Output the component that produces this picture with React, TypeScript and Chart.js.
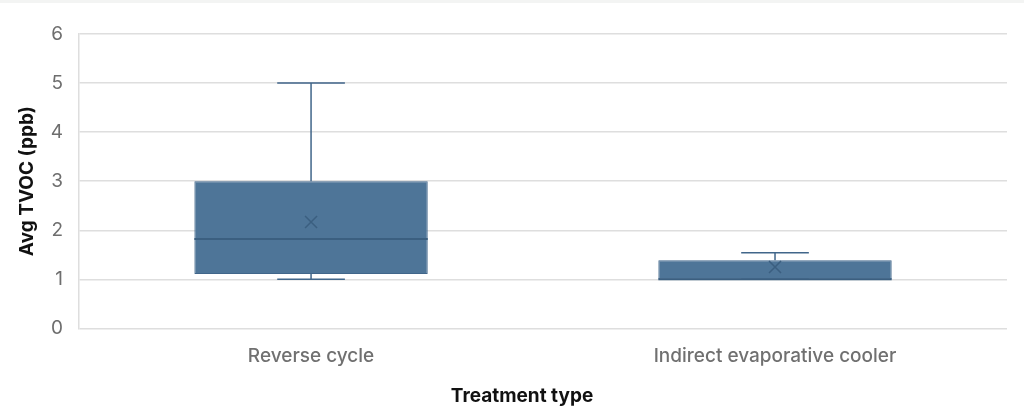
import { useEffect, useRef } from 'react'
import { Chart, registerables } from 'chart.js'

Chart.register(...registerables)

const categories = ['Reverse cycle', 'Indirect evaporative cooler']
const whiskerMin = [1.0, 1.0]
const q1 = [1.11, 1.0]
const median = [1.82, 1.0]
const q3 = [3.0, 1.39]
const whiskerMax = [5.0, 1.54]
const mean = [2.17, 1.25]
const yTicks = [0, 1, 2, 3, 4, 5, 6]
const xTitle = 'Treatment type'

const boxFill = '#4e7598'
const lineColor = '#41668a'
const titleFont = { family: 'Inter', size: 19, weight: 'bold' as const }

const boxPlotPlugin = {
  id: 'boxPlot',
  afterDatasetsDraw(chart: any) {
    const ctx = chart.ctx
    const y = chart.scales.y
    const meta = chart.getDatasetMeta(0)
    meta.data.forEach((bar: any, i: number) => {
      const cx = bar.x
      const half = bar.width / 2
      const cap = bar.width * 0.145
      const yMin = y.getPixelForValue(whiskerMin[i])
      const yQ1 = y.getPixelForValue(q1[i])
      const yQ3 = y.getPixelForValue(q3[i])
      const yMax = y.getPixelForValue(whiskerMax[i])
      const yMed = y.getPixelForValue(median[i])
      const yMean = y.getPixelForValue(mean[i])
      ctx.save()
      ctx.strokeStyle = lineColor
      ctx.lineWidth = 1.5
      ctx.beginPath()
      // whiskers
      ctx.moveTo(cx, yQ3)
      ctx.lineTo(cx, yMax)
      ctx.moveTo(cx - cap, yMax)
      ctx.lineTo(cx + cap, yMax)
      ctx.moveTo(cx, yQ1)
      ctx.lineTo(cx, yMin)
      ctx.moveTo(cx - cap, yMin)
      ctx.lineTo(cx + cap, yMin)
      ctx.stroke()
      // median
      ctx.strokeStyle = '#3b5f80'
      ctx.lineWidth = 2
      ctx.beginPath()
      ctx.moveTo(cx - half, yMed)
      ctx.lineTo(cx + half, yMed)
      ctx.stroke()
      // mean marker
      const m = 6
      ctx.lineWidth = 1.5
      ctx.beginPath()
      ctx.moveTo(cx - m, yMean - m)
      ctx.lineTo(cx + m, yMean + m)
      ctx.moveTo(cx + m, yMean - m)
      ctx.lineTo(cx - m, yMean + m)
      ctx.stroke()
      ctx.restore()
    })
  }
}

// x title is centred on the whole canvas (a bit left of the plot centre), like the source
const xTitlePlugin = {
  id: 'xTitle',
  beforeDraw(chart: any) {
    // faint strip along the top edge of the source image
    chart.ctx.save()
    chart.ctx.fillStyle = '#f3f4f3'
    chart.ctx.fillRect(0, 0, chart.width, 3)
    chart.ctx.restore()
  },
  afterDraw(chart: any) {
    const ctx = chart.ctx
    const x = chart.scales.x
    ctx.save()
    ctx.font = `bold ${titleFont.size}px ${titleFont.family}`
    ctx.fillStyle = '#111'
    ctx.textAlign = 'center'
    ctx.textBaseline = 'middle'
    ctx.fillText(xTitle, chart.width / 2 + 10, x.bottom - titleFont.size * 0.6)
    ctx.restore()
  }
}

export default function App() {
  const canvasRef = useRef<HTMLCanvasElement>(null)

  useEffect(() => {
    document.body.style.margin = '0'
    if (!canvasRef.current) return
    const chart = new Chart(canvasRef.current, {
      type: 'bar',
      data: {
        labels: categories,
        datasets: [
          {
            label: 'TVOC',
            data: categories.map((_, i) => [q1[i], q3[i]]),
            backgroundColor: boxFill,
            borderColor: lineColor,
            borderWidth: 1,
            borderSkipped: false,
            categoryPercentage: 1,
            barPercentage: 0.503
          }
        ]
      },
      options: {
        animation: false,
        responsive: false,
        layout: { padding: { top: 34, right: 17, bottom: 3, left: 16 } },
        plugins: {
          legend: { display: false },
          tooltip: { enabled: false }
        },
        scales: {
          x: {
            grid: { display: false },
            border: { display: false },
            ticks: {
              color: '#707070',
              font: { family: 'Inter', size: 19, weight: 500 },
              padding: 8
            },
            title: {
              display: true,
              text: xTitle,
              color: 'rgba(0,0,0,0)',
              font: titleFont,
              padding: { top: 10, bottom: 0 }
            }
          },
          y: {
            min: 0,
            max: 6,
            afterBuildTicks: (axis: any) => {
              axis.ticks = yTicks.map((v) => ({ value: v }))
            },
            afterFit: (axis: any) => {
              axis.width -= 4
            },
            grid: { color: '#dedede', lineWidth: 1.5, drawTicks: false },
            border: { display: true, color: '#dedede', width: 1.5 },
            ticks: {
              color: '#6e6e6e',
              font: { family: 'Inter', size: 19 },
              padding: 16
            },
            title: {
              display: true,
              text: 'Avg TVOC (ppb)',
              color: '#111',
              font: titleFont,
              padding: { top: 0, bottom: 0 }
            }
          }
        }
      },
      plugins: [boxPlotPlugin, xTitlePlugin]
    })
    return () => {
      chart.destroy()
    }
  }, [])

  return (
    <div style={{ width: 1024, height: 411 }}>
      <canvas ref={canvasRef} width={1024} height={411}></canvas>
    </div>
  )
}
